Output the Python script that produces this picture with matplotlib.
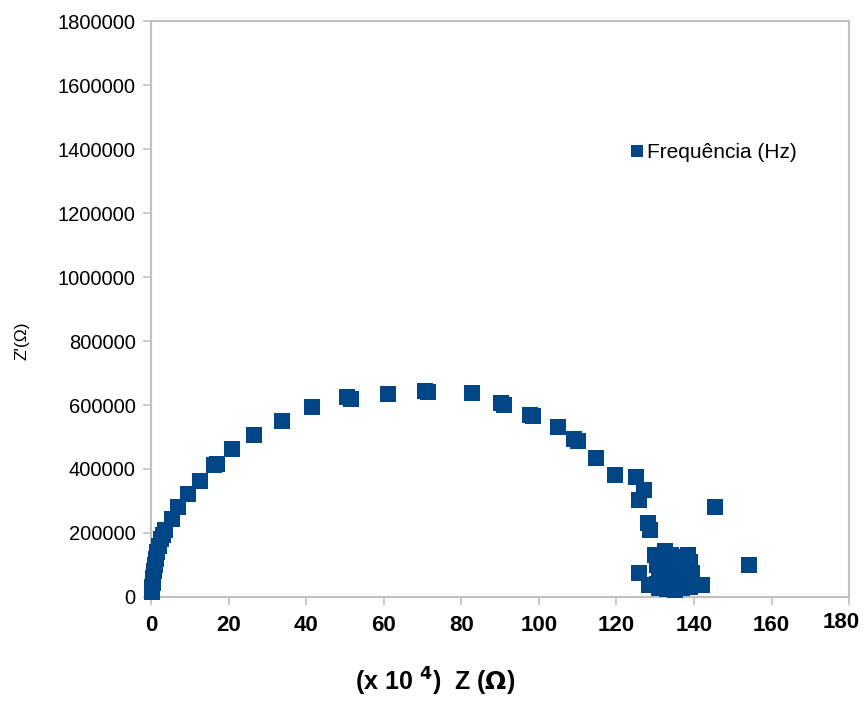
import matplotlib
matplotlib.use("Agg")
import matplotlib.pyplot as plt

plt.rcParams['font.family'] = ['Liberation Sans', 'DejaVu Sans']

z_real = [0.2, 0.3, 0.4, 0.6, 0.8, 1.0, 1.3, 1.6, 2.0, 2.5, 3.0, 3.6, 5.3, 7.0, 9.5,
          12.6, 16.3, 17.0, 21.0, 26.6, 33.8, 41.6, 50.5, 51.5, 61.0, 70.6, 71.5,
          82.8, 90.3, 91.0, 97.7, 98.5, 105.0, 109.0, 110.0, 114.8, 119.7, 125.0,
          127.0, 125.9, 128.2, 128.7, 145.4, 154.2, 125.9,
          128.5, 130.0, 130.5, 132.5, 131.5, 133.0, 134.0, 135.0, 136.0, 137.0,
          138.5, 139.0, 139.5, 142.0, 131.0, 133.0, 135.0, 137.0, 139.0, 131.0,
          133.0, 135.0, 137.0, 139.0, 132.0, 134.0, 136.0, 138.0, 133.0, 135.0,
          130.5, 132.0, 134.0, 136.0, 138.0]
z_imag = [15000, 30000, 45000, 60000, 80000, 100000, 120000, 140000, 160000, 180000,
          195000, 209000, 244000, 281000, 322000, 362000, 412000, 415000, 462000,
          506000, 550000, 594000, 625000, 620000, 634000, 643000, 640000, 637500,
          606000, 600000, 568750, 565000, 531000, 494000, 488000, 434000, 381000,
          375000, 334000, 303000, 231000, 209000, 281000, 100000, 75000,
          37000, 130000, 40000, 144000, 120000, 110000, 130000, 125000, 100000, 90000,
          131000, 110000, 75000, 37000, 80000, 80000, 80000, 60000, 60000, 28000,
          28000, 28000, 28000, 30000, 50000, 55000, 45000, 40000, 25000, 22000,
          100000, 95000, 105000, 115000, 110000]

x_ticks = [0, 20, 40, 60, 80, 100, 120, 140, 160, 180]
y_ticks = [0, 200000, 400000, 600000, 800000, 1000000, 1200000, 1400000, 1600000, 1800000]

fig = plt.figure(figsize=(8.63, 7.02), dpi=100)
ax = fig.add_axes([0.175, 0.1496, 0.809, 0.8204])

ax.plot(z_real, z_imag, ls='none', marker='s', ms=12, mew=0, color='#004586',
        label='Frequência (Hz)', clip_on=False, zorder=3)

ax.set_xlim(0, 180)
ax.set_ylim(0, 1800000)
ax.set_xticks(x_ticks)
ax.set_yticks(y_ticks)
# the last label ("180") is drawn by hand a bit to the left so it stays inside
ax.set_xticklabels([str(t) for t in x_ticks[:-1]] + [''], fontsize=16, fontweight='bold')
ax.annotate(str(x_ticks[-1]), xy=(x_ticks[-1], 0), xycoords=('data', 'axes fraction'),
            xytext=(-6, -11), textcoords='offset points', ha='center', va='top',
            fontsize=16, fontweight='bold', annotation_clip=False)
ax.set_yticklabels([str(t) for t in y_ticks], fontsize=14.5)

for s in ax.spines.values():
    s.set_color('#c0c0c0')
    s.set_linewidth(1.5)
ax.tick_params(axis='both', color='#c0c0c0', length=6, width=1.2)
ax.tick_params(axis='x', pad=7)
ax.tick_params(axis='y', pad=5)

ax.legend(loc='center left', bbox_to_anchor=(0.673, 0.771), frameon=False,
          handlelength=0.5, handletextpad=0.25, borderpad=0, markerscale=0.7,
          prop={'size': 15})

fig.text(0.504, 0.006, r'(x 10 $^{\mathbf{4}}$)  Z ($\mathbf{\Omega}$)', ha='center',
         va='bottom', fontsize=18, fontweight='bold')
fig.text(0.026, 0.515, "Z'(Ω)", rotation=90, ha='center', va='center', fontsize=12.5)

fig.savefig('out.png', dpi=100)
